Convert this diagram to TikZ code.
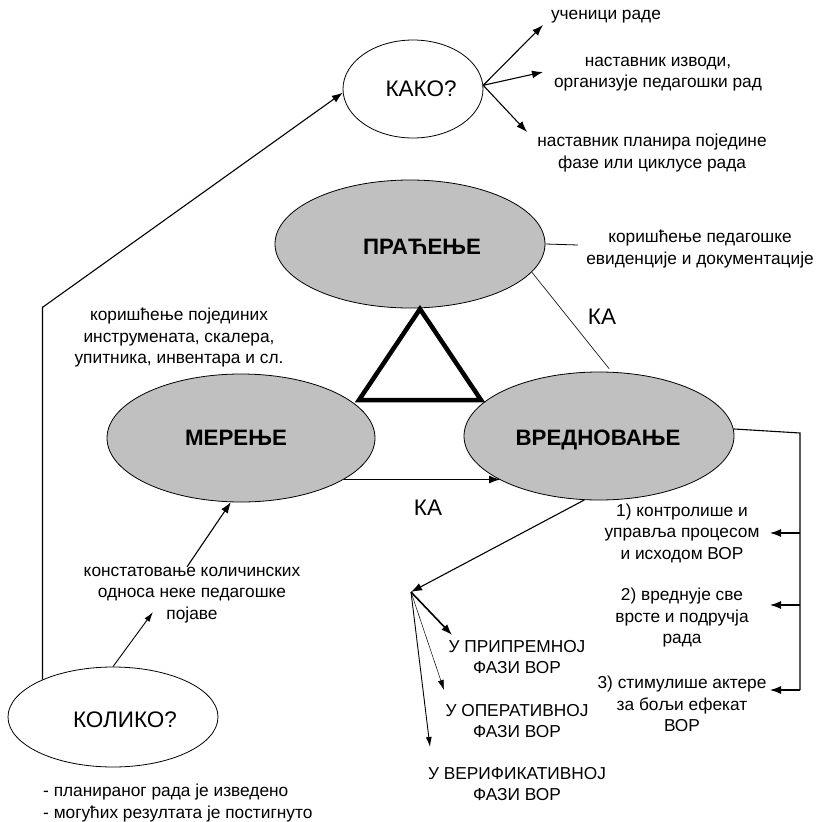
\documentclass[tikz,border=0pt]{standalone}
\usepackage{fontspec}
\setmainfont{Liberation Sans}
\usetikzlibrary{arrows.meta,shapes.geometric,calc}
\definecolor{ovalgray}{HTML}{C0C0C0}
\begin{document}
\begin{tikzpicture}[x=1pt,y=-1pt,
  oval/.style={ellipse, draw, line width=0.8pt, inner sep=0pt},
  grayoval/.style={oval, fill=ovalgray},
  txt/.style={align=center, inner sep=0pt, font=\fontsize{17.3}{21.5}\selectfont},
  big/.style={inner sep=0pt, font=\fontsize{22.5}{26}\selectfont},
  bigb/.style={inner sep=0pt, font=\bfseries\fontsize{22.3}{26}\selectfont},
  arr/.style={-{Latex[length=11pt,width=8pt]}, line width=1.1pt},
  thinarr/.style={-{Latex[length=10pt,width=6pt]}, line width=0.6pt},
  plain/.style={line width=0.8pt}]
\useasboundingbox (0,0) rectangle (825,822);

% ellipses
\node[oval, minimum width=140, minimum height=98] (kako) at (413,89) {};
\node[big] (kakoL) at (421,89) {КАКО?};
\node[grayoval, minimum width=270, minimum height=128] (prac) at (410,244) {};
\node[bigb] (pracL) at (422,247) {ПРАЋЕЊЕ};
\node[grayoval, minimum width=268, minimum height=128] (mer) at (241,438) {};
\node[bigb] (merL) at (236,438) {МЕРЕЊЕ};
\node[grayoval, minimum width=270, minimum height=128] (vred) at (599,436) {};
\node[bigb] (vredL) at (598,440) {ВРЕДНОВАЊЕ};
\node[oval, minimum width=210, minimum height=100] (kol) at (113,717) {};
\node[big] (kolL) at (125,720) {КОЛИКО?};

% triangle
\draw[line width=4.5pt, line join=miter] (420,309) -- (481,400) -- (359,400) -- cycle;

% texts
\node[txt] (t1) at (606,17) {ученици раде};
\node[txt] (t2) at (658,74) {наставник изводи,\\организује педагошки рад};
\node[txt] (t3) at (652,153) {наставник планира поједине\\фазе или циклусе рада};
\node[txt] (evid) at (700,249) {коришћење педагошке\\евиденције и документације};
\node[txt] (instr) at (179,338) {коришћење појединих\\инструмената, скалера,\\упитника, инвентара и сл.};
\node[txt] (konst) at (192,595) {констатовање количинских\\односа неке педагошке\\појаве};
\node[big] (ka1) at (602,317) {КА};
\node[big] (ka2) at (428,508) {КА};
\node[txt] (v1) at (682,533) {1) контролише и\\управља процесом\\и исходом ВОР};
\node[txt] (v2) at (682,618) {2) вреднује све\\врсте и подручја\\рада};
\node[txt] (v3) at (682,704) {3) стимулише актере\\за бољи ефекат\\ВОР};
\node[txt] (f1) at (517,657) {У ПРИПРЕМНОЈ\\ФАЗИ ВОР};
\node[txt] (f2) at (517,721) {У ОПЕРАТИВНОЈ\\ФАЗИ ВОР};
\node[txt] (f3) at (517,784) {У ВЕРИФИКАТИВНОЈ\\ФАЗИ ВОР};
\node[txt, align=left, anchor=west] (bot) at (43,803) {- планираног рада је изведено\\- могућих резултата је постигнуто};

% coordinates
\coordinate (c1) at (543,25);
\coordinate (c2) at (543,72);
\coordinate (c3) at (527,132);
\coordinate (bend) at (43,307);
\coordinate (k1) at (153,612);
\coordinate (pline) at (578,245);
\coordinate (fan) at (411,592);
\coordinate (g1) at (452,635);
\coordinate (g2) at (444,690);
\coordinate (g3) at (430,747);
\coordinate (br0) at (800,433);
\coordinate (br3) at (800,690);
\coordinate (a1) at (770,533);
\coordinate (a2) at (770,605);
\coordinate (a3) at (770,690);

% connectors
\draw[arr] (kako.3) -- (c1);
\draw[arr] (kako.3) -- (c2);
\draw[arr] (kako.3) -- (c3);
\draw[arr] (kol.152) -- (kol.152 |- bend) -- (bend) -- (kako.183);
\draw[thinarr, line width=0.9pt] (kol.north) -- (k1);
\draw[arr] ($(konst.north)+(-5,0)$) -- (mer.261);
\draw[arr] (mer.-22.6) -- (mer.-22.6 -| vred.204);
\draw[plain] (prac.east) -- (pline);
\draw[line width=0.6pt] (prac.-13.6) -- ($(vred.81.5)+(0,-3)$);
\draw[arr] (vred.257) -- (fan);
\draw[-{Latex[length=11pt,width=8pt]}, line width=1.6pt] (fan) -- (g1);
\draw[thinarr, line width=0.5pt] (fan) -- (g2);
\draw[thinarr, line width=0.9pt] (fan) -- (g3);
\draw[line width=1.1pt] (vred.3) -- (br0) -- (br3);
\draw[arr] (br0 |- a1) -- (a1);
\draw[arr] (br0 |- a2) -- (a2);
\draw[arr] (br3) -- (a3);
\end{tikzpicture}
\end{document}
